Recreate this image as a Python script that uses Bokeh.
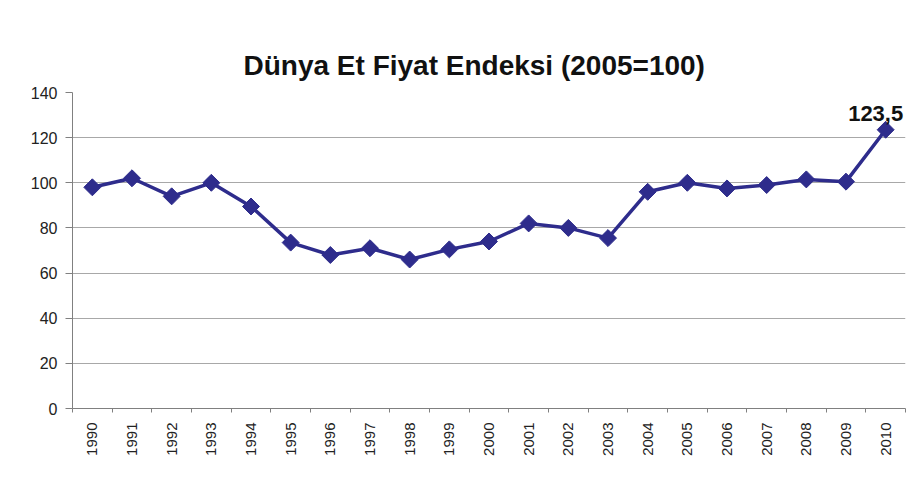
import math
from bokeh.plotting import figure
from bokeh.models import FixedTicker, Label, ColumnDataSource
from bokeh.embed import file_html
from bokeh.resources import INLINE

years = [str(y) for y in range(1990, 2011)]
values = [98, 102, 94, 100, 89.5, 73.5, 68, 71, 66, 70.5, 74,
          82, 80, 75.5, 96, 100, 97.5, 99, 101.5, 100.5, 123.5]
y_ticks = [0, 20, 40, 60, 80, 100, 120, 140]
title_text = "Dünya Et Fiyat Endeksi (2005=100)"

xs = list(range(len(years)))
src = ColumnDataSource(dict(x=xs, y=values, year=years))

p = figure(width=913, height=470, output_backend="svg", toolbar_location=None,
           x_range=(-0.5, len(years) - 0.5), y_range=(0, 140),
           min_border_left=72, min_border_right=8, min_border_top=92, min_border_bottom=62)
p.title.text = title_text
p.title.align = "left"
p.title.offset = 171
p.title.text_font = "Liberation Sans"
p.title.text_font_size = "28px"
p.title.text_font_style = "bold"
p.title.text_color = "#111111"
p.title.standoff = 24
p.outline_line_color = None
p.background_fill_color = "white"
p.border_fill_color = "white"

p.line("x", "y", source=src, line_color="#2e2c8c", line_width=3.5)
p.scatter("x", "y", source=src, marker="square", angle=math.pi / 4, size=12,
          fill_color="#2e2c8c", line_color="#2e2c8c")

p.xgrid.visible = False
p.ygrid.grid_line_color = "#a8a8a8"
p.ygrid.grid_line_width = 1.2
p.ygrid.ticker = FixedTicker(ticks=y_ticks)

p.yaxis.ticker = FixedTicker(ticks=y_ticks)
p.yaxis.axis_line_color = "#808080"
p.yaxis.major_tick_line_color = "#808080"
p.yaxis.major_tick_out = 7
p.yaxis.major_tick_in = 0
p.yaxis.minor_tick_line_color = None
p.yaxis.major_label_text_font = "Liberation Sans"
p.yaxis.major_label_text_font_size = "16px"
p.yaxis.major_label_text_color = "#222222"
p.yaxis.major_label_standoff = 8

p.xaxis.ticker = FixedTicker(ticks=xs, minor_ticks=[i - 0.5 for i in range(len(years) + 1)])
p.xaxis.major_label_overrides = {i: y for i, y in enumerate(years)}
p.xaxis.major_label_orientation = math.pi / 2
p.xaxis.axis_line_color = "#808080"
p.xaxis.major_tick_out = 0
p.xaxis.major_tick_in = 0
p.xaxis.minor_tick_out = 4
p.xaxis.minor_tick_in = 0
p.xaxis.minor_tick_line_color = "#808080"
p.xaxis.major_label_text_font = "Liberation Sans"
p.xaxis.major_label_text_font_size = "15px"
p.xaxis.major_label_text_color = "#222222"
p.xaxis.major_label_standoff = 10

last_label = f"{values[-1]}".replace(".", ",")
p.add_layout(Label(x=xs[-1], y=values[-1], text=last_label, text_align="center",
                   text_baseline="bottom", y_offset=9, x_offset=-10,
                   text_font="Liberation Sans", text_font_size="22px",
                   text_font_style="bold", text_color="#111111"))

open("out.html", "w").write(file_html(p, INLINE))
